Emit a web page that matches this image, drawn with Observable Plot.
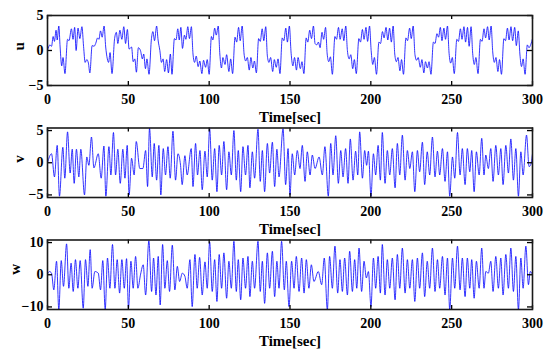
<!DOCTYPE html>
<html><head><meta charset="utf-8">
<script src="https://cdn.jsdelivr.net/npm/d3@7"></script>
<script src="https://cdn.jsdelivr.net/npm/@observablehq/plot@0.6"></script>
<style>
html,body{margin:0;padding:0;background:#fff;}
#chart{width:550px;height:355px;overflow:hidden;}
#chart svg{display:block;}
</style></head><body><div id="chart"></div>
<script>
const xTicks = [0, 50, 100, 150, 200, 250, 300];
const xLabel = "Time[sec]";
const uTicks = [-5, 0, 5];
const vTicks = [-5, 0, 5];
const wTicks = [-10, 0, 10];

// u(t): estimated turning points
const uTime = [0,1.5,2.5,3.5,4.3,5.3,6.0,7.0,7.8,8.8,9.6,10.8,12.4,13.3,14.8,15.8,16.8,17.7,18.9,20.0,21.3,22.3,23.3,24.3,25.3,26.2,27.6,28.8,29.8,31.0,31.8,32.8,33.8,35.0,36.0,37.0,37.8,38.7,39.9,41.5,42.6,43.5,44.8,46.0,47.2,48.3,49.4,50.5,52.0,53.0,54.0,55.0,56.2,57.5,58.7,59.5,60.6,61.5,62.8,64.3,65.2,66.2,67.5,68.4,69.5,70.5,71.5,72.5,73.7,74.8,76.0,77.0,78.5,79.5,80.6,81.5,82.5,83.5,84.7,85.6,86.8,87.8,89.0,90.0,91.0,92.0,93.2,94.2,95.5,96.5,97.8,98.8,100.0,101.4,102.3,103.4,104.4,105.6,106.6,107.6,108.5,109.8,110.8,112.2,113.3,114.5,116.0,117.0,118.2,119.2,120.4,121.6,122.6,123.6,124.8,125.8,127.0,128.0,129.2,130.6,131.6,132.8,133.8,135.0,136.0,137.0,138.0,139.3,140.3,141.5,142.6,143.8,145.2,146.2,147.4,148.4,149.6,150.7,151.8,152.8,154.0,155.0,156.4,157.4,158.6,160.0,161.0,162.2,163.3,164.5,165.5,166.5,167.6,168.6,169.8,170.8,172.0,173.0,174.0,175.0,176.2,177.8,178.8,180.0,181.0,182.3,183.3,184.5,185.5,186.6,187.6,188.8,189.8,191.0,192.6,193.6,194.8,195.8,197.0,198.0,199.2,200.2,201.2,202.2,203.5,205.0,206.0,207.2,208.2,209.4,210.5,211.6,212.7,213.8,214.8,215.8,216.8,218.0,219.0,220.2,221.7,222.7,224.0,225.0,226.2,227.3,228.3,229.3,230.6,231.6,232.8,233.8,235.0,236.0,237.2,238.7,239.7,240.9,241.9,243.0,244.0,245.2,246.2,247.4,248.4,249.4,250.4,251.6,253.2,254.2,255.4,256.4,257.6,258.6,259.8,260.8,262.0,263.0,264.0,265.0,266.3,267.8,268.8,270.0,271.0,272.2,273.2,274.4,275.4,276.4,277.4,278.6,279.6,280.8,282.3,283.3,284.5,285.5,286.7,287.7,289.0,290.0,291.2,292.2,293.2,294.2,295.4,296.8,297.8,299.0,300.0];
const uVal = [0,0.8,0.6,2.0,1.3,2.9,1.5,3.5,0.5,-2.2,-1.0,-3.3,1.6,1.4,3.1,1.6,3.3,0.0,3.2,1.7,3.4,0.6,-1.7,-1.3,-1.8,-3.2,0.7,0.6,1.0,1.8,1.6,2.8,1.9,3.5,0.5,-1.2,-1.7,-0.3,-3.3,1.7,2.6,1.0,2.9,1.6,3.4,1.0,3.0,0.2,0.5,-1.6,-1.2,-3.1,0.4,0.0,-1.2,-0.5,-2.6,-1.2,-3.4,1.7,2.7,1.4,3.5,1.5,0.0,-1.7,-1.2,-3.0,-1.3,-3.2,-0.5,-3.4,1.7,1.5,3.1,1.5,3.3,0.3,2.2,1.6,3.4,1.7,3.4,-0.5,-1.7,-0.8,-2.3,-1.5,-3.3,-1.4,-2.4,-1.3,-3.4,2.0,1.5,3.2,2.2,3.5,-0.5,-2.5,-1.0,-2.0,-0.6,-3.0,-1.2,-3.3,1.9,1.2,3.3,1.4,3.5,-0.5,-1.5,-1.0,-2.8,-1.0,-2.5,-1.5,-3.2,1.7,1.3,3.1,1.4,3.4,-0.8,-1.7,-1.0,-3.0,-1.3,-2.4,-1.2,-3.3,1.8,1.4,3.2,1.2,3.5,-0.4,-2.2,-1.0,-2.8,-1.0,-2.6,-1.6,-3.3,1.8,1.2,2.9,1.7,3.5,1.0,0.8,1.2,0.4,2.6,1.6,3.3,-0.5,-1.6,-0.9,-3.4,2.0,1.6,3.3,1.6,3.1,1.4,3.5,0.0,-1.2,-0.6,-2.6,-1.3,-3.3,1.7,1.2,3.0,1.6,3.3,1.3,3.5,0.0,-2.0,-1.0,-3.4,1.2,1.0,2.7,1.8,3.3,1.5,3.2,1.2,3.5,-0.5,-1.6,-1.0,-2.9,-1.3,-3.4,1.8,1.4,3.2,1.7,3.5,-0.6,-1.4,-1.0,-2.4,-1.3,-3.2,-1.6,-2.5,-1.6,-3.4,1.2,1.0,2.4,1.9,3.3,1.4,3.2,1.6,3.5,-0.4,-1.8,-1.0,-3.3,1.6,1.3,3.1,1.6,3.4,1.2,3.3,0.6,3.4,-0.4,-2.0,-1.0,-3.3,1.6,1.3,3.1,1.8,3.4,1.5,3.5,-0.2,-1.7,-1.0,-3.0,-1.3,-3.4,1.7,1.4,3.2,1.5,3.4,1.4,3.3,0.7,2.8,-0.5,-2.3,-1.2,-3.4,0.8,0.4,0.9,1.7];

// v(t): estimated turning points
const vTime = [0,2.5,4.3,6.0,7.4,9.5,10.7,12.4,14.0,15.3,16.5,17.9,19.4,20.6,22.9,24.3,25.6,27.2,28.7,31.4,33.2,34.9,36.1,38.0,39.2,40.8,42.1,43.5,45.0,46.6,47.9,49.3,50.5,
52.0,53.6,54.9,57.1,59.0,60.7,61.9,63.1,64.8,66.0,67.5,68.9,70.1,71.6,73.0,74.5,75.9,77.6,79.2,80.7,82.3,83.3,85.0,86.4,88.9,90.0,91.6,92.8,94.3,95.7,97.4,98.8,100.3,
101.9,103.4,104.8,106.2,107.7,109.1,110.8,112.2,113.7,115.3,116.8,118.0,119.5,120.9,122.5,124.0,125.2,126.7,128.1,130.2,131.6,132.9,134.3,136.0,137.4,139.1,140.5,141.9,143.2,145.7,147.3,148.8,150.0,
151.4,152.9,154.5,156.2,157.6,159.3,160.7,162.4,163.8,165.5,168.0,170.0,171.6,173.7,175.2,176.6,178.3,179.9,181.4,182.8,184.4,185.9,187.3,189.0,190.6,191.9,193.1,194.8,196.2,197.4,198.5,200.1,
201.6,203.0,204.5,205.9,207.1,208.8,210.2,211.7,213.3,215.0,216.4,217.9,219.5,221.2,222.6,224.1,225.7,227.2,228.8,230.2,231.9,233.3,234.9,236.4,238.1,239.7,241.2,242.6,244.3,245.9,247.4,248.8,
250.5,251.9,253.6,255.2,256.6,258.3,259.7,261.2,262.4,263.9,265.3,267.0,268.6,270.0,271.1,272.7,274.2,275.6,277.3,278.9,280.4,281.8,283.5,285.1,286.6,288.2,289.7,291.3,292.8,294.2,296.3,297.9,298.9,300];
const vVal = [0,1.4,-2.2,2.7,-5.2,2.4,-2.4,4.8,-1.6,2.1,-3.2,2.1,-2.2,2.1,-5.0,0.9,-0.4,4.0,-0.8,1.4,-2.4,2.6,-5.2,2.5,-1.9,4.7,-1.9,2.1,-3.2,2.1,-2.4,2.7,-5.0,
0.7,-1.9,3.3,-0.9,-0.9,1.9,-3.7,5.4,-2.2,3.0,-2.7,2.7,-5.0,2.2,-1.9,2.5,-2.4,4.9,-2.7,1.4,-0.4,-3.4,1.1,-1.9,2.2,-3.7,3.0,-1.9,1.9,-4.2,1.8,-2.2,5.3,
-2.7,2.2,-4.5,2.7,-1.9,3.3,-4.2,1.7,-1.9,5.0,-2.7,1.9,-4.5,2.5,-1.9,2.7,-3.9,1.7,-2.4,5.2,-2.9,1.9,-4.5,3.0,-1.6,3.2,-3.7,2.1,-2.2,5.3,-3.4,2.2,-5.0,
1.4,-1.9,1.9,-0.9,2.7,-2.9,1.7,-1.9,1.2,-0.9,0.9,-1.9,2.5,-5.2,3.0,-1.9,4.2,-3.2,1.9,-2.2,2.2,-3.2,3.7,-2.7,1.8,-1.9,4.8,-2.4,1.9,-0.4,1.8,-5.2,
1.4,-1.9,2.7,-2.7,4.7,-3.2,1.9,-1.9,2.2,-3.9,3.0,-1.9,4.3,-2.7,1.9,-0.9,1.7,-4.5,1.9,-1.4,3.2,-3.4,1.7,-1.9,4.0,-2.2,1.8,-1.9,2.2,-2.9,1.7,-5.2,
0.9,-2.4,4.7,-1.9,2.2,-3.4,2.2,-1.4,1.9,-4.5,1.7,-1.9,3.8,-1.9,1.2,-0.9,2.2,-2.9,2.7,-1.9,2.2,-3.4,2.7,-1.6,3.7,-2.7,2.2,-5.2,1.7,-1.9,4.3,-0.6,-0.3,1.4];

// w(t): estimated turning points
const wTime = [0,1.2,2.5,3.9,5.6,7.0,8.5,9.9,11.8,13.2,14.6,15.9,17.3,18.8,20.2,22.1,23.5,25.0,26.4,27.6,29.3,31.4,32.8,34.2,35.7,37.1,38.6,40.2,41.7,43.1,44.6,46.0,47.5,48.9,50.1,
51.6,53.0,54.5,55.9,57.6,59.2,60.7,62.7,64.4,65.6,67.1,68.5,69.7,71.2,72.6,74.1,75.5,77.2,78.8,80.3,81.7,83.4,85.0,86.4,88.1,89.5,91.2,92.6,94.1,95.7,97.4,98.8,100.3,
101.9,103.4,104.8,106.2,107.7,109.1,110.8,112.2,113.7,115.3,116.8,118.0,119.5,120.9,122.5,124.0,125.2,126.7,128.1,130.2,131.6,132.9,134.3,136.0,137.4,139.1,140.5,141.9,143.2,144.8,146.5,147.7,149.4,
151.0,152.5,153.9,155.6,157.2,158.7,160.1,161.7,163.2,164.8,167.5,169.6,171.2,173.1,174.5,176.2,177.8,179.5,180.9,182.4,183.8,185.5,186.9,188.6,190.0,191.3,192.7,194.3,195.8,197.2,198.5,200.1,
201.6,203.0,204.5,205.9,207.1,208.8,210.2,211.7,213.3,215.0,216.4,217.9,219.5,221.2,222.6,224.1,225.7,227.2,228.8,230.2,231.9,233.3,234.9,236.4,238.1,239.7,241.2,242.6,244.3,245.9,247.4,248.8,
250.5,251.9,253.6,255.2,256.6,258.3,259.7,261.2,262.4,263.9,265.3,267.0,268.6,270.0,271.1,272.7,274.2,275.6,277.3,278.9,280.4,281.8,283.5,285.1,286.6,288.2,289.7,291.3,292.8,294.2,295.9,297.5,298.6,300];
const wVal = [0.2,1.0,0.5,-4.7,4.2,-10.9,4.4,-3.6,9.6,-4.2,3.6,-5.2,4.7,-4.2,4.4,-10.4,4.7,-3.6,7.8,-4.2,1.0,0.5,-4.7,4.4,-10.9,5.2,-4.2,9.4,-4.2,4.7,-5.7,4.7,-4.2,5.0,-10.4,
4.2,-4.2,5.7,-4.2,0.2,3.1,-6.3,10.6,-5.2,5.2,-6.3,5.7,-9.4,9.4,-4.2,4.4,-5.2,9.2,-4.7,2.6,-2.1,0.5,-0.5,-4.2,4.7,-9.9,6.3,-4.2,5.4,-6.3,4.0,-4.2,10.2,
-5.2,4.7,-8.3,6.3,-4.2,6.8,-7.3,4.2,-4.2,10.4,-5.2,4.7,-7.8,5.2,-4.2,5.7,-6.8,4.2,-4.2,10.4,-5.2,4.2,-8.9,6.8,-4.2,7.3,-6.8,4.2,-4.2,10.4,-4.7,4.2,-9.9,
4.2,-4.2,5.7,-5.2,5.2,-5.7,4.7,-4.2,3.1,-2.1,1.0,-3.1,5.2,-10.9,5.7,-4.2,8.9,-5.7,4.7,-5.2,5.2,-6.3,7.3,-5.2,4.7,-4.2,8.3,-5.2,4.2,-1.0,1.0,-9.9,
5.2,-4.2,5.7,-5.7,9.4,-6.3,4.7,-4.2,5.2,-7.8,6.3,-4.2,8.3,-5.7,4.7,-4.2,4.7,-8.3,5.2,-4.2,6.8,-6.8,4.2,-4.2,8.3,-5.2,4.7,-4.2,5.7,-6.3,5.2,-10.9,
5.2,-4.2,8.9,-4.7,5.2,-6.8,5.2,-4.2,4.7,-7.3,4.2,-4.2,8.3,-4.2,1.0,0.5,4.2,-5.2,5.7,-4.2,5.2,-6.3,6.3,-4.2,8.3,-5.2,5.7,-10.9,5.2,-4.2,8.9,-3.1,1.0,0.0];

const FONT = '"Liberation Serif", "Times New Roman", Times, serif';
const FRAME_W = 550 - 47 - 18;

function panel({time, vals, yDomain, yTicks, label, height, mt, mb, labelDx}) {
  const data = time.map((t, i) => ({t, v: vals[i]}));
  const frameH = height - mt - mb;
  const tk = {stroke: "#000", strokeWidth: 1.3};
  return Plot.plot({
    width: 550, height, marginTop: mt, marginBottom: mb, marginLeft: 47, marginRight: 18,
    style: {fontFamily: FONT, fontSize: "14px", fontWeight: "bold", background: "#fff", color: "#000"},
    x: {domain: [0, 300]},
    y: {domain: yDomain},
    marks: [
      Plot.line(data, {x: "t", y: "v", stroke: "#0000ff", strokeWidth: 0.8, curve: "monotone-x", clip: true}),
      Plot.tickX(xTicks, {x: d => d, insetTop: frameH - 4, ...tk}),
      Plot.tickX(xTicks, {x: d => d, insetBottom: frameH - 4, ...tk}),
      Plot.tickY(yTicks, {y: d => d, insetRight: FRAME_W - 5, ...tk}),
      Plot.tickY(yTicks, {y: d => d, insetLeft: FRAME_W - 5, ...tk}),
      Plot.frame({stroke: "#1a1a1a", strokeWidth: 1.6}),
      Plot.axisX({ticks: xTicks, tickSize: 0, tickPadding: 9, label: null}),
      Plot.axisY({ticks: yTicks, tickSize: 0, tickPadding: 4, label: null}),
      Plot.text([xLabel], {frameAnchor: "bottom", dy: 32, text: d => d, lineAnchor: "middle", fontSize: 15}),
      Plot.text([label], {frameAnchor: "left", dx: labelDx, rotate: -90, text: d => d, lineAnchor: "middle", fontSize: 15})
    ]
  });
}

const root = document.getElementById("chart");
root.append(panel({time: uTime, vals: uVal, yDomain: [-5, 5], yTicks: uTicks, label: "u", height: 124, mt: 15, mb: 39, labelDx: -28}));
root.append(panel({time: vTime, vals: vVal, yDomain: [-5.4, 5.4], yTicks: vTicks, label: "v", height: 112, mt: 3.5, mb: 39, labelDx: -28}));
root.append(panel({time: wTime, vals: wVal, yDomain: [-10.8, 10.8], yTicks: wTicks, label: "w", height: 119, mt: 3.5, mb: 46, labelDx: -32}));
</script></body></html>
